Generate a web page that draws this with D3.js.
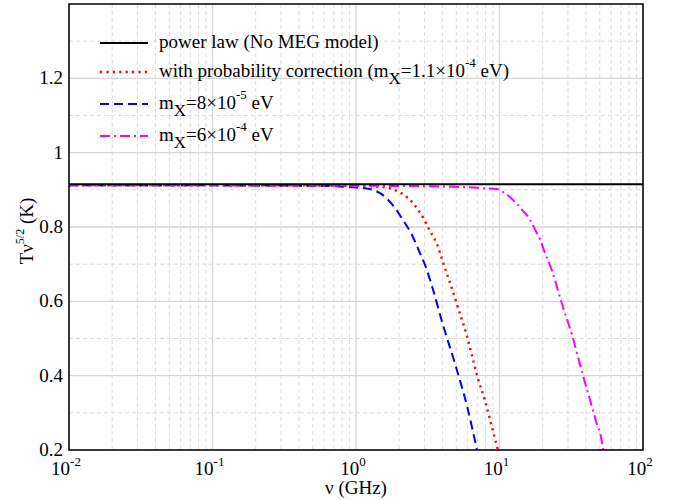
<!DOCTYPE html>
<html>
<head>
<meta charset="utf-8">
<script src="https://cdn.jsdelivr.net/npm/d3@7"></script>
<style>
  body { margin: 0; background: #fff; }
</style>
</head>
<body>
<div id="chart"></div>
<script>
// frequencies in GHz, T*nu^(5/2) in K
const powerNu = [0.01, 100];
const powerT = [0.915, 0.915];

const blueNu = [0.01, 0.1, 0.5, 1.0, 1.25, 1.47, 1.87, 2.13, 2.46, 2.79, 3.07, 3.39, 4.04, 4.90, 5.94, 6.97];
const blueT = [0.912, 0.912, 0.911, 0.906, 0.902, 0.891, 0.851, 0.818, 0.778, 0.730, 0.692, 0.640, 0.536, 0.432, 0.318, 0.200];

const redNu = [0.01, 0.1, 1.0, 1.47, 1.73, 2.0, 2.27, 2.50, 2.75, 2.98, 3.18, 3.44, 3.67, 3.85, 4.04, 4.52, 5.14, 5.94, 6.43, 7.08, 7.92, 8.59, 9.46, 9.75];
const redT = [0.912, 0.912, 0.911, 0.908, 0.904, 0.894, 0.880, 0.864, 0.842, 0.821, 0.799, 0.775, 0.754, 0.730, 0.705, 0.650, 0.583, 0.505, 0.455, 0.392, 0.333, 0.282, 0.219, 0.200];

const magNu = [0.01, 0.1, 1, 5, 7.31, 9.6, 10.6, 12.8, 14.4, 16.3, 17.7, 19.2, 20.7, 22.8, 27.7, 32.0, 38.2, 42.7, 47.0, 51.8, 52.6];
const magT = [0.912, 0.912, 0.911, 0.908, 0.905, 0.902, 0.894, 0.868, 0.846, 0.820, 0.793, 0.766, 0.731, 0.691, 0.584, 0.510, 0.400, 0.335, 0.278, 0.219, 0.200];

const xTicks = [-2, -1, 0, 1, 2];           // decade exponents
const yTicks = [0.2, 0.4, 0.6, 0.8, 1, 1.2];
const yMinor = [0.3, 0.5, 0.7, 0.9, 1.1, 1.3];

const W = 675, H = 500;
const m = { left: 69, right: 32, top: 4, bottom: 50 };
const iw = W - m.left - m.right, ih = H - m.top - m.bottom;
const FONT = "'Liberation Serif', 'Times New Roman', serif";

const svg = d3.select("#chart").append("svg")
    .attr("width", W).attr("height", H)
    .style("font-family", FONT);

const x = d3.scaleLog().domain([1e-2, 1e2]).range([0, iw]);
const y = d3.scaleLinear().domain([0.2, 1.4]).range([ih, 0]);

const g = svg.append("g").attr("transform", `translate(${m.left},${m.top})`);

// minor grid
const xMinor = [];
xTicks.slice(0, -1).forEach(e => {
    for (let k = 2; k <= 9; k++) xMinor.push(k * Math.pow(10, e));
});
g.append("g").selectAll("line").data(xMinor).enter().append("line")
    .attr("x1", d => x(d)).attr("x2", d => x(d))
    .attr("y1", 0).attr("y2", ih)
    .attr("stroke", "#dcdcdc").attr("stroke-width", 1)
    .attr("stroke-dasharray", "4,3");
g.append("g").selectAll("line").data(yMinor).enter().append("line")
    .attr("x1", 0).attr("x2", iw)
    .attr("y1", d => y(d)).attr("y2", d => y(d))
    .attr("stroke", "#dcdcdc").attr("stroke-width", 1)
    .attr("stroke-dasharray", "4,3");

// major grid
g.append("g").selectAll("line").data(xTicks).enter().append("line")
    .attr("x1", d => x(Math.pow(10, d))).attr("x2", d => x(Math.pow(10, d)))
    .attr("y1", 0).attr("y2", ih)
    .attr("stroke", "#d6d6d6").attr("stroke-width", 1.3);
g.append("g").selectAll("line").data(yTicks).enter().append("line")
    .attr("x1", 0).attr("x2", iw)
    .attr("y1", d => y(d)).attr("y2", d => y(d))
    .attr("stroke", "#d6d6d6").attr("stroke-width", 1.3);

// curves
svg.append("defs").append("clipPath").attr("id", "clip")
    .append("rect").attr("width", iw).attr("height", ih);

const line = d3.line()
    .x(d => x(d[0])).y(d => y(d[1]))
    .curve(d3.curveMonotoneX);

const series = [
    { nu: powerNu, t: powerT, color: "#000", dash: null, w: 2,
      label: [["power law (No MEG model)", ""]] },
    { nu: redNu, t: redT, color: "#ff0000", dash: "2.2,4.2", w: 2.4,
      label: [["with probability correction (m", ""], ["X", "sub"], ["=1.1×10", ""], ["-4", "sup"], [" eV)", ""]] },
    { nu: blueNu, t: blueT, color: "#0000ff", dash: "9,5", w: 2,
      label: [["m", ""], ["X", "sub"], ["=8×10", ""], ["-5", "sup"], [" eV", ""]] },
    { nu: magNu, t: magT, color: "#ff00ff", dash: "10,4,2,4", w: 2,
      label: [["m", ""], ["X", "sub"], ["=6×10", ""], ["-4", "sup"], [" eV", ""]] }
];

const plot = g.append("g").attr("clip-path", "url(#clip)");
// coloured curves first, power law on top
series.slice(1).concat(series.slice(0, 1)).forEach(s => {
    plot.append("path")
        .datum(s.nu.map((v, i) => [v, s.t[i]]))
        .attr("d", line)
        .attr("fill", "none")
        .attr("stroke", s.color)
        .attr("stroke-width", s.w)
        .attr("stroke-dasharray", s.dash);
});

// frame
g.append("rect").attr("width", iw).attr("height", ih)
    .attr("fill", "none").attr("stroke", "#000").attr("stroke-width", 1.5);

// y tick labels
g.append("g").selectAll("text").data(yTicks).enter().append("text")
    .attr("x", -6).attr("y", d => y(d) + 6)
    .attr("text-anchor", "end")
    .style("font-size", "19px")
    .text(d => d3.format("")(d));

// x tick labels
const xl = g.append("g").selectAll("text").data(xTicks).enter().append("text")
    .attr("x", d => x(Math.pow(10, d)) - 3)
    .attr("y", ih + 25)
    .attr("text-anchor", "middle")
    .style("font-size", "19px");
xl.append("tspan").text("10");
xl.append("tspan").attr("dy", -9).style("font-size", "13px").text(d => d);

// axis titles
g.append("text")
    .attr("x", x(1)).attr("y", ih + 44)
    .attr("text-anchor", "middle")
    .style("font-size", "19px")
    .text("ν (GHz)");

const yl = svg.append("text")
    .attr("transform", "translate(33,231) rotate(-90)")
    .attr("text-anchor", "middle")
    .style("font-size", "19px");
yl.append("tspan").text("Tν");
yl.append("tspan").attr("dy", -9).style("font-size", "12px").text("5/2");
yl.append("tspan").attr("dy", 9).text(" (K)");

// legend
const rows = [43, 72, 104, 136];
const leg = svg.append("g");
series.forEach((s, i) => {
    leg.append("line")
        .attr("x1", 100).attr("x2", 148)
        .attr("y1", rows[i]).attr("y2", rows[i])
        .attr("stroke", s.color).attr("stroke-width", s.w)
        .attr("stroke-dasharray", s.dash);
    const t = leg.append("text")
        .attr("x", 159).attr("y", rows[i] + 5)
        .style("font-size", "19px");
    let shift = 0;
    s.label.forEach(([str, kind]) => {
        let dy = 0, fs = null;
        if (kind === "sub") { dy = 7 - shift; shift = 7; fs = "17px"; }
        else if (kind === "sup") { dy = -10 - shift; shift = -10; fs = "13px"; }
        else { dy = -shift; shift = 0; }
        const ts = t.append("tspan").attr("dy", dy).text(str);
        if (fs) ts.style("font-size", fs);
    });
});
</script>
</body>
</html>
